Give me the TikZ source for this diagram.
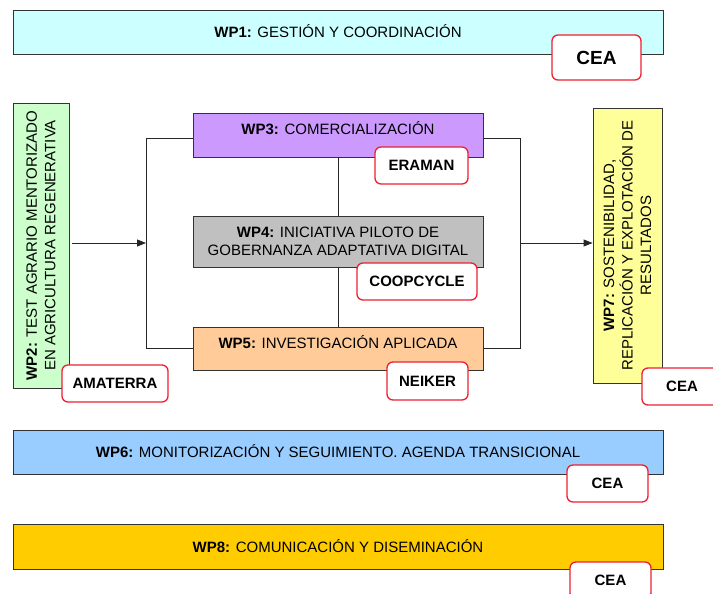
\documentclass[tikz,border=0pt]{standalone}
\usepackage{fontspec}
\setmainfont{Liberation Sans}
\usetikzlibrary{arrows.meta}
\definecolor{cwpa}{HTML}{CCFFFF}
\definecolor{cwpb}{HTML}{CCFFCC}
\definecolor{cwpc}{HTML}{CC99FF}
\definecolor{cwpd}{HTML}{C0C0C0}
\definecolor{cwpe}{HTML}{FFCC99}
\definecolor{cwpf}{HTML}{99CCFF}
\definecolor{cwpg}{HTML}{FFFF99}
\definecolor{cwph}{HTML}{FFCC00}
\definecolor{lblred}{HTML}{EE2030}
\begin{document}
\begin{tikzpicture}[x=1pt,y=-1pt,
  wp/.style={draw=black!80, line width=0.8pt, inner sep=0pt, align=center,
    font=\fontsize{15}{18.5}\selectfont},
  oneline/.style={text height=11pt, text depth=0pt},
  upline/.style={text height=4pt, text depth=5pt},
  lbl/.style={draw=lblred, line width=1.3pt, rounded corners=6pt, fill=white,
    inner sep=0pt, font=\bfseries\fontsize{15}{18}\selectfont},
  conn/.style={draw=black!85, line width=0.8pt},
  arr/.style={conn, -{Triangle[length=9pt,width=7pt]}}]
\useasboundingbox (0,0) rectangle (713,594);

% work packages
\node[wp, oneline, fill=cwpa, minimum width=650pt, minimum height=44pt] (wp1) at (338,32)
  {\textbf{WP1:} GESTIÓN Y COORDINACIÓN};
\node[wp, fill=cwpb, rotate=90, minimum width=285pt, minimum height=56pt] (wp2) at (41,245.5)
  {\textbf{WP2:} TEST AGRARIO MENTORIZADO\\EN AGRICULTURA REGENERATIVA};
\node[wp, upline, fill=cwpc, minimum width=290pt, minimum height=44pt] (wp3) at (338,135)
  {\textbf{WP3:} COMERCIALIZACIÓN};
\node[wp, fill=cwpd, minimum width=290pt, minimum height=51pt] (wp4) at (338,241.5)
  {\textbf{WP4:} INICIATIVA PILOTO DE\\GOBERNANZA ADAPTATIVA DIGITAL};
\node[wp, upline, fill=cwpe, minimum width=290pt, minimum height=43pt] (wp5) at (338,348.5)
  {\textbf{WP5:} INVESTIGACIÓN APLICADA};
\node[wp, fill=cwpg, rotate=90, minimum width=275pt, minimum height=69pt] (wp7) at (627.5,245.5)
  {\textbf{WP7:} SOSTENIBILIDAD,\\REPLICACIÓN Y EXPLOTACIÓN DE\\RESULTADOS};
\node[wp, oneline, fill=cwpf, minimum width=650pt, minimum height=44pt] (wp6) at (338,452)
  {\textbf{WP6:} MONITORIZACIÓN Y SEGUIMIENTO. AGENDA TRANSICIONAL};
\node[wp, oneline, fill=cwph, minimum width=650pt, minimum height=45pt] (wp8) at (338,546.5)
  {\textbf{WP8:} COMUNICACIÓN Y DISEMINACIÓN};

% connectors
\coordinate (lt) at (146,138);
\coordinate (lm) at (146,243);
\coordinate (lb) at (146,348);
\coordinate (rt) at (520,138);
\coordinate (rm) at (520,243);
\coordinate (rb) at (520,348);
\draw[conn] (wp3.west |- lt) -- (lt) -- (lb) -- (wp5.west |- lb);
\draw[conn] (wp3.east |- rt) -- (rt) -- (rb) -- (wp5.east |- rb);
\draw[conn] (wp3.south) -- (wp4.north);
\draw[conn] (wp4.south) -- (wp5.north);
\draw[arr] ([xshift=3pt]wp2.south |- lm) -- (lm);
\draw[arr] (rm) -- (wp7.north |- rm);

% partner labels
\node[lbl, font=\bfseries\fontsize{19}{22}\selectfont, minimum width=89pt, minimum height=45pt] (cea1) at (596.5,57.5) {CEA};
\node[lbl, minimum width=106pt, minimum height=37pt] (amaterra) at (115,383.5) {AMATERRA};
\node[lbl, minimum width=93pt, minimum height=37pt] (eraman) at (421.5,165.5) {ERAMAN};
\node[lbl, minimum width=120pt, minimum height=37pt] (coopcycle) at (417,281.5) {COOPCYCLE};
\node[lbl, minimum width=81pt, minimum height=38pt] (neiker) at (427.5,381) {NEIKER};
\node[lbl, minimum width=80pt, minimum height=37pt] (cea7) at (682,386.5) {CEA};
\node[lbl, minimum width=81pt, minimum height=37pt] (cea6) at (607.5,483.5) {CEA};
\node[lbl, minimum width=81pt, minimum height=37pt] (cea8) at (610.5,580.5) {CEA};
\end{tikzpicture}
\end{document}
